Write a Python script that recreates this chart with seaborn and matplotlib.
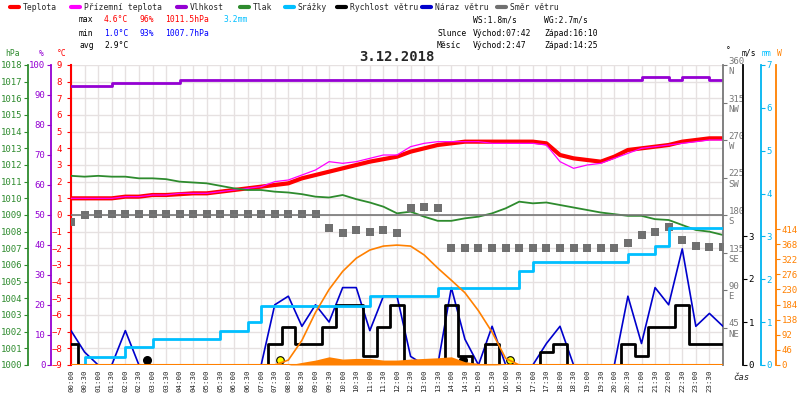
import numpy as np
import pandas as pd
import matplotlib
matplotlib.use("Agg")
import matplotlib.pyplot as plt
import seaborn as sns

sns.set_style("white")
plt.rcParams['font.family'] = ['DejaVu Sans Mono', 'DejaVu Sans']

hours = [i * 0.5 for i in range(49)]
tick_labels = [f"{h:02d}:{m:02d}" for h in range(24) for m in (0, 30)]

temperature = [1.0,1.0,1.0,1.0,1.1,1.1,1.2,1.2,1.25,1.3,1.3,1.4,1.5,1.6,1.7,1.8,1.9,2.2,2.4,2.6,2.8,3.0,3.2,3.35,3.5,
               3.8,4.0,4.2,4.3,4.4,4.4,4.4,4.4,4.4,4.4,4.3,3.6,3.4,3.3,3.2,3.5,3.9,4.0,4.1,4.2,4.4,4.5,4.6,4.6]
apparent = [1.0,1.0,1.0,1.0,1.1,1.1,1.2,1.2,1.3,1.3,1.3,1.4,1.5,1.6,1.7,2.0,2.1,2.4,2.7,3.2,3.1,3.2,3.4,3.6,3.6,
            4.1,4.3,4.4,4.4,4.4,4.4,4.3,4.3,4.3,4.3,4.2,3.2,2.8,3.0,3.1,3.4,3.7,4.0,4.1,4.2,4.3,4.4,4.5,4.5]
humidity = [93,93,93,94,94,94,94,94,95,95,95,95,95,95,95,95,95,95,95,95,95,95,95,95,95,
            95,95,95,95,95,95,95,95,95,95,95,95,95,95,95,95,95,96,96,95,96,96,95,95]
pressure = [1011.35,1011.3,1011.35,1011.3,1011.3,1011.2,1011.2,1011.15,1011.0,1010.95,1010.9,1010.75,1010.6,1010.5,
            1010.5,1010.4,1010.35,1010.25,1010.1,1010.05,1010.2,1009.95,1009.75,1009.5,1009.1,1009.2,1008.9,1008.65,
            1008.65,1008.8,1008.9,1009.1,1009.4,1009.8,1009.7,1009.75,1009.6,1009.45,1009.3,1009.15,1009.05,1008.95,
            1008.95,1008.75,1008.7,1008.4,1008.1,1008.0,1007.8]
rain = [0,0.19,0.19,0.19,0.42,0.42,0.6,0.6,0.6,0.6,0.6,0.8,0.8,1.0,1.38,1.38,1.38,1.38,1.38,1.38,1.38,1.38,1.6,1.6,1.6,
        1.6,1.6,1.8,1.8,1.8,1.8,1.8,1.8,2.2,2.4,2.4,2.4,2.4,2.4,2.4,2.4,2.6,2.6,2.78,3.2,3.2,3.2,3.2,3.2]
wind_speed = [0.5,0,0,0,0,0,0,0,0,0,0,0,0,0,0,0.5,0.88,0.5,0.5,0.88,1.4,1.4,0.2,0.88,1.4,
              0,0,0,1.4,0.2,0,0.5,0,0,0,0.3,0.5,0,0,0,0,0.5,0.2,0.88,0.88,1.4,0.5,0.5,0.5]
wind_gust = [0.8,0.3,0,0,0.8,0,0,0,0,0,0,0,0,0,0,1.4,1.6,0.9,1.4,1.0,1.8,1.8,0.8,1.6,1.6,
             0.2,0,0,1.8,0.6,0,0.9,0,0,0,0.5,0.9,0,0,0,0,1.6,0.5,1.8,1.4,2.7,0.9,1.2,0.9]
direction = [172,180,181,181,181,181,181,181,181,181,181,181,181,181,181,181,181,181,181,165,158,162,160,162,158,
             188,190,189,140,140,140,140,140,140,140,140,140,140,140,140,140,147,156,160,166,150,143,142,142]
solar_hours = [7.5,8,8.5,9,9.5,10,10.5,11,11.5,12,12.5,13,13.5,14,14.5,15,15.5,16,16.5]
solar_theory = [0,15,75,160,230,285,325,350,362,365,362,335,295,258,220,165,100,20,0]
solar_real = [0,0,8,15,25,18,20,20,15,15,18,20,22,25,10,5,2,0,0]

df = pd.DataFrame(dict(t=hours, temp=temperature, app=apparent, hum=humidity, p=pressure,
                       rain=rain, ws=wind_speed, wg=wind_gust, d=direction))
sol = pd.DataFrame(dict(t=solar_hours, th=solar_theory, re=solar_real))

fig = plt.figure(figsize=(8, 4), dpi=100)
ax = fig.add_axes([71/800, 35/400, 652/800, 300/400])
ax.set_xlim(0, 24); ax.set_ylim(-9, 9)
ax.set_xticks(hours[:-1]); ax.set_xticklabels(tick_labels, rotation=90, fontsize=5.3)
ax.set_yticks(range(-9, 10))
ax.tick_params(axis='y', colors='red', labelsize=6.5, length=3)
ax.tick_params(axis='x', length=2, pad=1)
ax.grid(True, color='#e6e1e1', lw=1)
ax.spines['left'].set_color('red'); ax.spines['left'].set_linewidth(1.5)
for s in ('top', 'right', 'bottom'):
    ax.spines[s].set_visible(False)

def twin(ylim, pos, side, color, ticks, labels=None):
    a = ax.twinx()
    a.set_ylim(*ylim); a.set_xlim(0, 24)
    for s in ('top', 'bottom', 'left', 'right'):
        a.spines[s].set_visible(False)
    sp = a.spines[side]
    sp.set_visible(True); sp.set_position(('axes', pos)); sp.set_color(color); sp.set_linewidth(1.3)
    if side == 'left':
        a.yaxis.tick_left()
    else:
        a.yaxis.tick_right()
    a.set_yticks(ticks)
    if labels is not None:
        a.set_yticklabels(labels)
    a.tick_params(axis='y', colors=color, labelsize=6.5, length=3, pad=1)
    a.grid(False)
    return a

ax_p = twin((1000, 1018), -43/652, 'left', '#2e8b2e', range(1000, 1019))
ax_h = twin((0, 100), -20/652, 'left', '#9400d3', range(0, 101, 10))
ax_d = twin((0, 360), 1.0, 'right', '#777777', range(45, 361, 45),
            ["45\nNE", "90\nE", "135\nSE", "180\nS", "225\nSW", "270\nW", "315\nNW", "360\nN"])
ax_w = twin((0, 300/43), 1.0307, 'right', 'black', range(0, 4))
ax_r = twin((0, 7), 1.058, 'right', '#00b4f0', range(0, 8))
ax_s = twin((0, 300/0.3285), 1.081, 'right', '#ff8000', range(0, 415, 46))
ax_d.axhline(180, color='#777777', lw=1.2)

ax_s.fill_between(sol.t, 0, sol.re, color='#ff8000', lw=0)
sns.lineplot(data=sol, x='t', y='th', ax=ax_s, color='#ff8000', lw=1.2, estimator=None)
ax_s.axhline(0, color='#ff8000', lw=1.5)
sns.lineplot(data=df, x='t', y='rain', ax=ax_r, color='#00bfff', lw=2, drawstyle='steps-post', estimator=None)
sns.scatterplot(data=df, x='t', y='d', ax=ax_d, color='#707070', marker='s', s=26, linewidth=0)
sns.lineplot(data=df, x='t', y='wg', ax=ax_w, color='#0000cc', lw=1.2, estimator=None)
sns.lineplot(data=df, x='t', y='ws', ax=ax_w, color='black', lw=2, drawstyle='steps-mid', estimator=None)
sns.lineplot(data=df, x='t', y='p', ax=ax_p, color='#2e8b2e', lw=1.3, estimator=None)
sns.lineplot(data=df, x='t', y='hum', ax=ax_h, color='#9400d3', lw=2, drawstyle='steps-post', estimator=None)
sns.lineplot(data=df, x='t', y='temp', ax=ax, color='red', lw=3, estimator=None, zorder=5)
sns.lineplot(data=df, x='t', y='app', ax=ax, color='#ff00ff', lw=0.9, estimator=None, zorder=6)
ax_w.scatter([7.7, 16.17], [0.12, 0.12], s=30, color='yellow', edgecolor='black', lw=0.8, zorder=10, clip_on=False)
ax_w.scatter([2.78, 14.42], [0.12, 0.12], s=30, color='black', zorder=10, clip_on=False)
for a in (ax, ax_p, ax_h, ax_d, ax_w, ax_r, ax_s):
    a.set_ylabel(''); a.set_xlabel('')
fig.text(733/800, 1 - 378/400, 'čas', fontsize=6.5, style='italic', va='center')

fs = 5.8
leg = [('red', 'Teplota', 10), ('#ff00ff', 'Přízemní teplota', 71), ('#9400d3', 'Vlhkost', 177),
       ('#2e8b2e', 'Tlak', 240), ('#00bfff', 'Srážky', 285), ('black', 'Rychlost větru', 337),
       ('#0000cc', 'Náraz větru', 422), ('#707070', 'Směr větru', 497)]
for c, lab, x in leg:
    fig.add_artist(plt.Line2D([x/800, (x+9)/800], [1-7/400]*2, color=c, lw=3))
    fig.text((x+13)/800, 1-7/400, lab, fontsize=fs, va='center')
def t(x, y, s, c='black', ha='left'):
    fig.text(x/800, 1-y/400, s, color=c, fontsize=fs, va='center', ha=ha)
t(79, 20, 'max'); t(104, 20, '4.6°C', 'red'); t(139, 20, '96%', 'red'); t(165, 20, '1011.5hPa', 'red'); t(224, 20, '3.2mm', '#00bfff')
t(79, 33, 'min'); t(104, 33, '1.0°C', 'blue'); t(139, 33, '93%', 'blue'); t(165, 33, '1007.7hPa', 'blue')
t(79, 45, 'avg'); t(104, 45, '2.9°C')
t(473, 20, 'WS:1.8m/s'); t(544, 20, 'WG:2.7m/s')
t(437, 33, 'Slunce'); t(473, 33, 'Východ:07:42'); t(544, 33, 'Západ:16:10')
t(437, 45, 'Měsíc'); t(473, 45, 'Východ:2:47'); t(544, 45, 'Západ:14:25')
t(5, 53, 'hPa', '#2e8b2e'); t(39, 53, '%', '#9400d3'); t(57, 53, '°C', 'red')
t(726, 51, '°'); t(742, 53, 'm/s'); t(762, 53, 'mm', '#00bfff'); t(777, 53, 'W', '#ff8000')
fig.text(397/800, 1-57/400, '3.12.2018', fontsize=10, weight='bold', ha='center', va='center')

fig.savefig('out.png', dpi=100)
